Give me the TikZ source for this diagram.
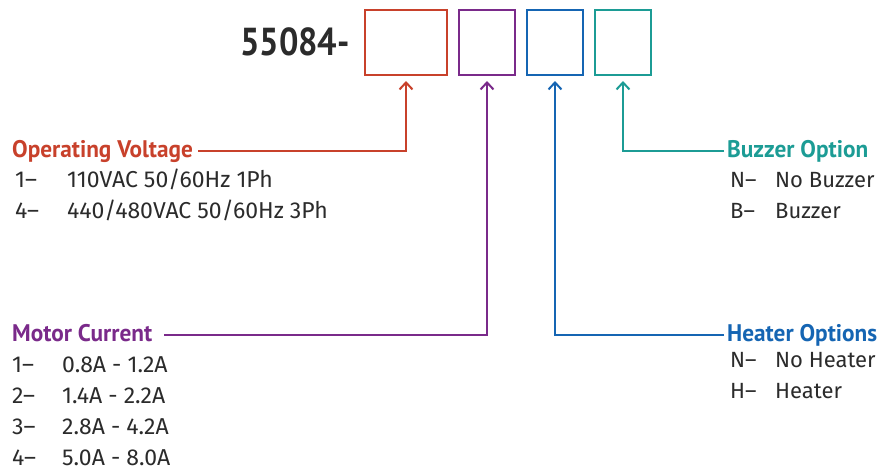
\documentclass[tikz,border=0pt]{standalone}
\usepackage{fontspec}
\setmainfont{Fira Sans}
\newfontfamily\headfont{PT Sans}[FakeStretch=0.97]
\newfontfamily\partfont{PT Sans}[FakeStretch=0.88]
\usepackage{xcolor}
\usetikzlibrary{arrows.meta, positioning}

\definecolor{vred}{HTML}{C8412B}
\definecolor{vpurple}{HTML}{7A2A8A}
\definecolor{vblue}{HTML}{1565B3}
\definecolor{vteal}{HTML}{1C9C95}
\definecolor{ink}{HTML}{2B2B2B}

\begin{document}
\begin{tikzpicture}[
  x=1pt, y=-1pt,
  node distance=10pt,
  slot/.style={rectangle, draw, line width=2pt, minimum height=65pt, inner sep=0pt},
  title/.style={anchor=base west, inner sep=0pt, font=\headfont\fontsize{24}{24}\selectfont\bfseries},
  items/.style={anchor=base west, inner sep=0pt, align=left, text=ink,
                font=\fontsize{23}{31}\selectfont},
  sideitems/.style={items, font=\fontsize{22}{31}\selectfont},
  arrow/.style={-{Straight Barb[length=7pt, width=13pt, line width=2pt]}, line width=2pt}
]
\useasboundingbox (0,0) rectangle (879,469);

% code boxes
\node[slot, draw=vred, minimum width=82pt] (vbox) at (406,42.5) {};
\node[slot, draw=vpurple, minimum width=56pt, right=of vbox] (mbox) {};
\node[slot, draw=vblue, minimum width=56pt, right=of mbox] (hbox) {};
\node[slot, draw=vteal, minimum width=56pt, right=of hbox] (bbox) {};
\node[anchor=base east, inner sep=0pt, text=ink, font=\partfont\fontsize{39}{39}\selectfont\bfseries]
  (part) at (350,55) {55084-};

% option headings
\node[title, text=vred] (volt) at (12,157) {Operating Voltage};
\node[title, text=vpurple] (amps) at (12,341) {Motor Current};
\node[title, text=vteal] (buzz) at (727,157) {Buzzer Option};
\node[title, text=vblue] (heat) at (727,341) {Heater Options};

% option lists (base = last line)
\node[items] (voltlist) at (15,218)
  {\makebox[52pt][l]{1–}110VAC 50/60Hz 1Ph\\\makebox[52pt][l]{4–}440/480VAC 50/60Hz 3Ph};
\node[items] (ampslist) at (12,465)
  {\makebox[50pt][l]{1–}0.8A - 1.2A\\\makebox[50pt][l]{2–}1.4A - 2.2A\\
   \makebox[50pt][l]{3–}2.8A - 4.2A\\\makebox[50pt][l]{4–}5.0A - 8.0A};
\node[sideitems] (buzzlist) at (730,218)
  {\makebox[45pt][l]{N–}No Buzzer\\\makebox[45pt][l]{B–}Buzzer};
\node[sideitems] (heatlist) at (730,398)
  {\makebox[45pt][l]{N–}No Heater\\\makebox[45pt][l]{H–}Heater};

% connectors
\draw[arrow, vred] ([xshift=5pt, yshift=6pt]volt.base east) -| ([yshift=-5pt]vbox.south);
\draw[arrow, vpurple] ([xshift=12pt, yshift=6pt]amps.base east) -| ([yshift=-5pt]mbox.south);
\draw[arrow, vblue] ([xshift=-3pt, yshift=6pt]heat.base west) -| ([yshift=-5pt]hbox.south);
\draw[arrow, vteal] ([xshift=-3pt, yshift=6pt]buzz.base west) -| ([yshift=-5pt]bbox.south);
\end{tikzpicture}
\end{document}
